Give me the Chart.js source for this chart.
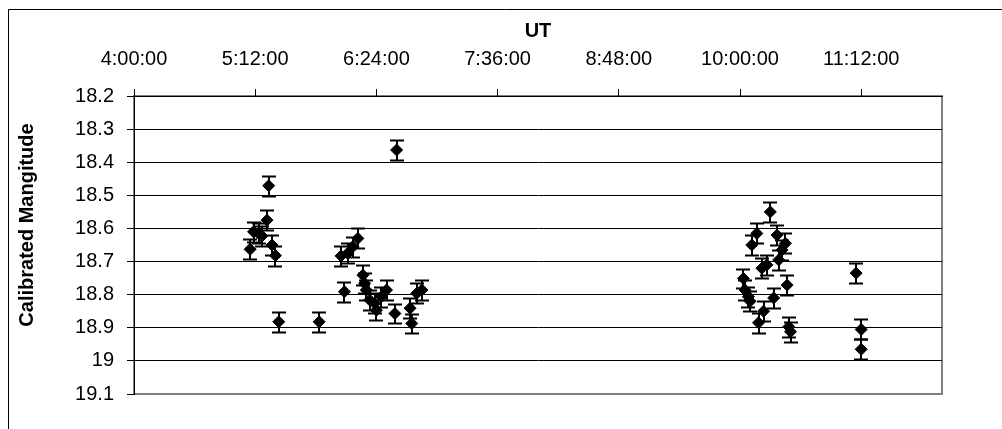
<!DOCTYPE html>
<html>
<head>
<meta charset="utf-8">
<title>UT</title>
<script src="https://cdn.jsdelivr.net/npm/chart.js@4.4.1/dist/chart.umd.min.js"></script>
<style>
    html, body { margin: 0; padding: 0; background: #fff; }
</style>
</head>
<body>
<canvas id="grafico" width="1002" height="429"></canvas>
<script>
// orari delle osservazioni (UT) e magnitudini calibrate
const tempi = [
    '5:09', '5:11', '5:14', '5:16', '5:19', '5:20', '5:22', '5:24', '5:26', '5:50',
    '6:03', '6:05', '6:07', '6:10', '6:13', '6:16', '6:17', '6:18', '6:20', '6:23',
    '6:24', '6:27', '6:30', '6:35', '6:36', '6:44', '6:45', '6:48', '6:51',
    '10:02', '10:03', '10:05', '10:06', '10:07', '10:10', '10:11', '10:13', '10:14', '10:16',
    '10:18', '10:20', '10:22', '10:23', '10:25', '10:27', '10:28', '10:29', '10:30',
    '11:09', '11:12', '11:12'
]
const magnitudini = [
    18.663, 18.61, 18.615, 18.623, 18.575, 18.471, 18.65, 18.682, 18.882, 18.882,
    18.683, 18.791, 18.675, 18.655, 18.63, 18.741, 18.766, 18.786, 18.816, 18.826,
    18.847, 18.806, 18.786, 18.857, 18.363, 18.841, 18.887, 18.796, 18.786,
    18.751, 18.786, 18.806, 18.82, 18.65, 18.615, 18.885, 18.72, 18.85, 18.71,
    18.55, 18.81, 18.62, 18.695, 18.665, 18.645, 18.771, 18.897, 18.912,
    18.735, 18.905, 18.965
]
const errori = [
    0.03, 0.03, 0.03, 0.03, 0.03, 0.03, 0.03, 0.03, 0.03, 0.03,
    0.03, 0.03, 0.03, 0.03, 0.03, 0.03, 0.03, 0.03, 0.03, 0.03,
    0.03, 0.03, 0.03, 0.03, 0.03, 0.03, 0.03, 0.03, 0.03,
    0.03, 0.03, 0.03, 0.03, 0.03, 0.03, 0.03, 0.03, 0.03, 0.03,
    0.03, 0.03, 0.03, 0.03, 0.03, 0.03, 0.03, 0.03, 0.03,
    0.03, 0.03, 0.03
]
const etichetteX = ['4:00:00', '5:12:00', '6:24:00', '7:36:00', '8:48:00', '10:00:00', '11:12:00']
const etichetteY = ['18.2', '18.3', '18.4', '18.5', '18.6', '18.7', '18.8', '18.9', '19', '19.1']

function inMinuti(t) {
    let p = t.split(':')
    return parseInt(p[0]) * 60 + parseInt(p[1])
}

const punti = tempi.map((t, i) => ({ x: inMinuti(t), y: magnitudini[i] }))

Chart.defaults.font.family = '"Liberation Sans", Arial, sans-serif'
Chart.defaults.font.size = 20
Chart.defaults.color = '#000'

// bordo esterno e riquadro grigio dell'area del grafico
const cornice = {
    id: 'cornice',
    beforeDraw(chart) {
        const { ctx, chartArea: a } = chart
        ctx.save()
        ctx.strokeStyle = '#000'
        ctx.lineWidth = 1
        ctx.beginPath()
        ctx.moveTo(8.5, chart.height)
        ctx.lineTo(8.5, 9.5)
        ctx.lineTo(chart.width, 9.5)
        ctx.stroke()
        ctx.strokeStyle = '#808080'
        ctx.lineWidth = 2
        ctx.strokeRect(a.left, a.top, a.right - a.left, a.bottom - a.top)
        ctx.restore()
    }
}

// barre d'errore verticali con i cappucci
const barreErrore = {
    id: 'barreErrore',
    beforeDatasetsDraw(chart) {
        const { ctx, scales: { x, y } } = chart
        ctx.save()
        ctx.strokeStyle = '#000'
        ctx.lineWidth = 2
        punti.forEach((p, i) => {
            let px = Math.round(x.getPixelForValue(p.x))
            let y1 = Math.round(y.getPixelForValue(p.y - errori[i])) + 0.5
            let y2 = Math.round(y.getPixelForValue(p.y + errori[i])) + 0.5
            ctx.beginPath()
            ctx.moveTo(px, y1)
            ctx.lineTo(px, y2)
            ctx.moveTo(px - 7, y1)
            ctx.lineTo(px + 7, y1)
            ctx.moveTo(px - 7, y2)
            ctx.lineTo(px + 7, y2)
            ctx.stroke()
        })
        ctx.restore()
    }
}

// titolo dell'asse verticale
const titoloY = {
    id: 'titoloY',
    afterDraw(chart) {
        const { ctx } = chart
        ctx.save()
        ctx.translate(27, 225)
        ctx.rotate(-Math.PI / 2)
        ctx.font = 'bold 20px "Liberation Sans", Arial, sans-serif'
        ctx.fillStyle = '#000'
        ctx.textAlign = 'center'
        ctx.textBaseline = 'middle'
        ctx.fillText('Calibrated Mangitude', 0, 0)
        ctx.restore()
    }
}

new Chart(
    document.getElementById('grafico'),
    {
        type: 'scatter',
        data: {
            datasets: [
                {
                    label: 'Magnitudine',
                    data: punti,
                    pointStyle: 'rectRot',
                    pointRadius: 6,
                    pointBackgroundColor: '#000',
                    pointBorderColor: '#000',
                    pointBorderWidth: 1,
                },
            ]
        },
        options: {
            responsive: false,
            animation: false,
            devicePixelRatio: 1,
            layout: {
                padding: { left: 10, top: 10, right: 60, bottom: 35 }
            },
            plugins: {
                legend: { display: false },
                tooltip: { enabled: false }
            },
            scales: {
                x: {
                    type: 'linear',
                    position: 'top',
                    min: 240,
                    max: 720,
                    afterBuildTicks: s => { s.ticks = etichetteX.map(t => ({ value: inMinuti(t) })) },
                    afterFit: s => { s.height = 86 },
                    ticks: {
                        callback: (v, i) => etichetteX[i],
                        padding: 18,
                        maxRotation: 0,
                        autoSkip: false,
                        color: '#000'
                    },
                    grid: {
                        drawOnChartArea: false,
                        tickLength: 7,
                        color: '#000'
                    },
                    border: { color: '#000', width: 1 },
                    title: {
                        display: true,
                        text: 'UT',
                        color: '#000',
                        font: { size: 20, weight: 'bold' },
                        padding: { top: 9, bottom: 0 }
                    }
                },
                y: {
                    reverse: true,
                    min: 18.2,
                    max: 19.1,
                    afterBuildTicks: s => { s.ticks = etichetteY.map(t => ({ value: parseFloat(t) })) },
                    afterFit: s => { s.width = 124 },
                    ticks: {
                        callback: (v, i) => etichetteY[i],
                        padding: 13,
                        color: '#000'
                    },
                    grid: {
                        color: c => c.index == etichetteY.length - 1 ? 'rgba(0,0,0,0)' : '#000',
                        tickColor: '#000',
                        tickLength: 7,
                        lineWidth: 1
                    },
                    border: { color: '#000', width: 1 }
                }
            }
        },
        plugins: [cornice, barreErrore, titoloY]
    }
)
</script>
</body>
</html>
